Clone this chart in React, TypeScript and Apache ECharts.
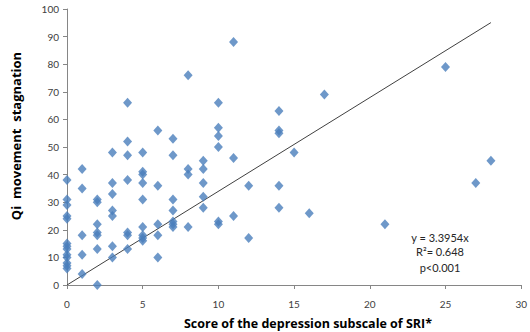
import React, { useEffect, useRef } from "react";
import * as echarts from "echarts";

// Scatter data: [depression score, Qi movement stagnation]
const pointsX0 = [38, 31, 29, 25, 24, 15, 14, 13, 11, 10, 8, 7, 6];
const pointsX1 = [42, 35, 18, 11, 4];
const pointsX2 = [31, 30, 22, 19, 18, 13, 0];
const pointsX3 = [48, 37, 33, 27, 25, 14, 10];
const pointsX4 = [66, 52, 47, 38, 19, 18, 13];
const pointsX5 = [48, 41, 40, 37, 31, 21, 18, 17, 16];
const pointsX6 = [56, 36, 22, 18, 10];
const pointsX7 = [53, 47, 31, 27, 23, 22, 21];
const pointsX8 = [76, 42, 40, 21];
const pointsX9 = [45, 42, 37, 32, 28];
const pointsX10 = [66, 57, 54, 50, 23, 22];
const pointsX11 = [88, 46, 25];
const pointsX12 = [36, 17];
const pointsX14 = [63, 56, 55, 36, 28];
const outliers: [number, number][] = [
  [15, 48],
  [16, 26],
  [17, 69],
  [21, 22],
  [25, 79],
  [27, 37],
  [28, 45],
];

const columns: [number, number[]][] = [
  [0, pointsX0],
  [1, pointsX1],
  [2, pointsX2],
  [3, pointsX3],
  [4, pointsX4],
  [5, pointsX5],
  [6, pointsX6],
  [7, pointsX7],
  [8, pointsX8],
  [9, pointsX9],
  [10, pointsX10],
  [11, pointsX11],
  [12, pointsX12],
  [14, pointsX14],
];

const slope = 3.3954;
const trendXEnd = 28;

const xTicks = [0, 5, 10, 15, 20, 25, 30];
const yTicks = [0, 10, 20, 30, 40, 50, 60, 70, 80, 90, 100];

const annotationLines = ["y = 3.3954x", "R²= 0.648", "p<0.001"];

const FONT = "Lato, 'Open Sans', 'Liberation Sans', sans-serif";
const TITLE_FONT = "'Open Sans', Lato, 'Liberation Sans', sans-serif";

export default function App() {
  const ref = useRef<HTMLDivElement>(null);

  useEffect(() => {
    if (!ref.current) return;
    const chart = echarts.init(ref.current, undefined, { renderer: "svg" });

    const scatterData: [number, number][] = [];
    columns.forEach(([x, ys]) => ys.forEach((y) => scatterData.push([x, y])));
    outliers.forEach((p) => scatterData.push(p));

    const trendData = [
      [0, 0],
      [trendXEnd, slope * trendXEnd],
    ];

    const axisLineStyle = { color: "#868686", width: 1 };

    chart.setOption({
      animation: false,
      textStyle: { fontFamily: FONT },
      grid: { left: 67, right: 6, top: 9, bottom: 47 },
      xAxis: {
        type: "value",
        min: xTicks[0],
        max: xTicks[xTicks.length - 1],
        interval: 5,
        splitLine: { show: false },
        axisLine: { show: true, lineStyle: axisLineStyle, onZero: false },
        axisTick: { show: true, length: 4, lineStyle: axisLineStyle },
        axisLabel: { color: "#404040", fontSize: 10, margin: 14, fontFamily: FONT },
      },
      yAxis: {
        type: "value",
        min: yTicks[0],
        max: yTicks[yTicks.length - 1],
        interval: 10,
        splitLine: { show: false },
        axisLine: { show: true, lineStyle: axisLineStyle },
        axisTick: { show: true, length: 4, lineStyle: axisLineStyle },
        axisLabel: { color: "#404040", fontSize: 10, margin: 8, fontFamily: FONT },
      },
      series: [
        {
          type: "line",
          data: trendData,
          symbol: "none",
          lineStyle: { color: "#404040", width: 1 },
          silent: true,
          z: 1,
        },
        {
          type: "scatter",
          data: scatterData,
          symbol: "diamond",
          symbolSize: [9, 10],
          itemStyle: { color: "#4A7EBB" },
          z: 2,
        },
      ],
      graphic: [
        {
          type: "text",
          x: 308,
          y: 323,
          style: {
            text: "Score of the depression subscale of SRI*",
            font: `bold 12.5px ${TITLE_FONT}`,
            fill: "#000",
            align: "center",
            verticalAlign: "middle",
          },
        },
        {
          type: "text",
          x: 16,
          y: 136,
          rotation: Math.PI / 2,
          style: {
            text: "Qi  movement  stagnation",
            font: `bold 13px ${TITLE_FONT}`,
            fill: "#000",
            align: "center",
            verticalAlign: "middle",
          },
        },
        ...annotationLines.map((t, i) => ({
          type: "text",
          x: 440,
          y: [237, 251, 267][i],
          style: {
            text: t,
            font: `11px ${FONT}`,
            fill: "#262626",
            align: "center",
            verticalAlign: "middle",
          },
        })),
      ],
    });

    return () => chart.dispose();
  }, []);

  return (
    <div
      ref={ref}
      style={{ position: "absolute", left: 0, top: 0, width: 530, height: 332 }}
    />
  );
}
